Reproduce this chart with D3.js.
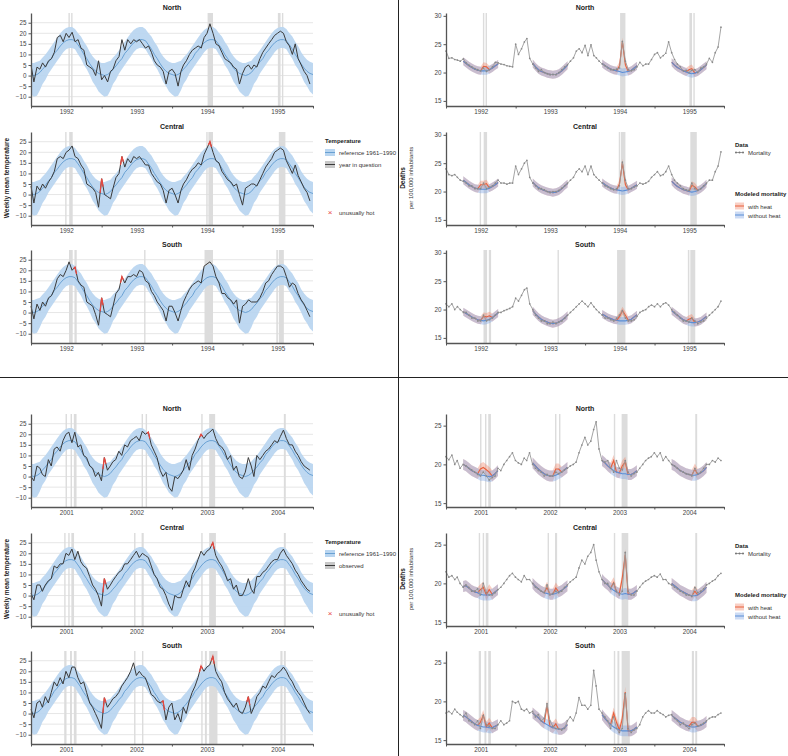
<!DOCTYPE html>
<html><head><meta charset="utf-8">
<script src="https://cdn.jsdelivr.net/npm/d3@7"></script>
<style>
body{margin:0;background:#fff;}
svg{font-family:"Liberation Sans",Arial,sans-serif;}
</style></head><body>
<svg id="c" width="788" height="756"></svg>
<script>
// ---------- DATA (half-monthly values: 1st and 16th of each month) ----------
const regions = ["North", "Central", "South"];
const yearsA = [1992, 1993, 1994, 1995];
const yearsB = [2001, 2002, 2003, 2004];
const tempTicks = [-10, -5, 0, 5, 10, 15, 20, 25];
const mortTicksA = [15, 20, 25, 30];
const mortTicksB = [15, 20, 25];

// Reference 1961-1990 climatology (24 half-months)
const refMid = [0.5, 0, 0.5, 1.5, 3, 4.5, 6.5, 8, 10.5, 12, 14, 15.5, 16.5, 17, 17, 16.5, 14.5, 12.5, 10, 8, 5.5, 3.5, 2, 1];
const refLo = [-9, -10, -9.5, -7, -4, -2, 1, 3, 5, 7, 9, 11, 12.5, 13, 13, 12.5, 10, 8, 5, 3, 0, -3, -5, -7.5];
const refHi = [6, 6, 6.5, 7, 8.5, 10, 12, 14, 16, 18, 20, 21.5, 22.5, 23, 23, 22, 20, 18.5, 16, 14, 11, 9, 7.5, 6.5];

// Observed weekly mean temperature
const tempNorthA = [5, -3, 4, 3, 6, 4, 7, 8, 11, 18, 19, 16, 20, 18, 20.5, 16, 17, 13, 12, 5, 4, 3, 0, 7,
  -2, 0, -3, 2, 3, 7, 9, 17, 12, 17, 15, 17, 16, 17, 15, 13, 14, 11, 7, 5, 4, 2, -4, 2,
  3, 1, -5, 2, 5, 7, 10, 12, 13, 14, 13, 18, 20, 24.5, 20, 15, 14, 11, 8, 7, 6, 4, 3, -4,
  1, 4, 5, 3, 5, 4, 8, 11, 13, 15, 17, 19, 20, 21, 20, 16, 14, 10, 15, 8, 5, 2, 0, -4];
const tempCentralA = [4, -4, 4, 2, 5, 3, 6, 8, 11, 17, 18, 17, 20, 21, 23, 18, 17, 14, 12, 5, 4, 3, 1, -6,
  7.5, 0, -1, -2, 3, 8, 10, 18, 13, 17, 15, 18, 17, 18, 16, 14, 14, 10, 8, 6, 5, 2, -4, 2,
  3, 0, -4, 2, 5, 7, 10, 12, 13, 15, 14, 19, 22, 25, 20, 16, 15, 11, 9, 7, 6, 4, 5, 0,
  -5, 3, 4, 5, 5, 4, 7, 10, 13, 15, 17, 20, 21, 22, 21, 16, 13, 10, 14, 9, 6, 3, 1, -3];
const tempSouthA = [3, -3, 4, 1, 5, 3, 7, 8, 11, 16, 18, 17, 20, 24, 20, 21.5, 15, 13, 12, 5, 4, 3, -1, -6,
  7, 0, -1, -2, 3, 9, 11, 17, 14, 17, 17, 18, 17, 20, 19, 15, 14, 10, 8, 5, 3, 1, -4, 3,
  3, 0, -4, 1, 5, 8, 11, 13, 14, 15, 14, 22, 23, 24, 22, 17, 14, 9, 9, 7, 6, 4, 6, -5,
  3, 4, 6, 5, 5, 5, 7, 10, 14, 15, 18, 20, 22, 22, 21, 17, 12, 14, 13, 9, 6, 4, 1, -2];
const tempNorthB = [0, -2, 5, 4, 1, 0, 8, 5, 13, 14, 12, 17, 20, 21, 16, 21, 14, 15, 10, 9, 5, 4, 0, 2,
  -2, 9, 3, 5, 7, 8, 12, 10, 15, 14, 17, 18, 19, 17, 21.5, 20, 21, 15, 12, 9, 3, 0, 2, -5,
  -7, 0, -1, 1, 3, 8, 3, 10, 13, 17, 20, 18, 20, 21, 22.5, 18, 15, 14, 12, 8, 10, 3, 5, 0,
  -1, 2, 9, 5, 0, 10, 8, 10, 12, 13, 15, 17, 16, 19, 22, 18, 15, 15, 12, 10, 7, 5, 4, 3];
const tempCentralB = [1, -2, 5, 5, 2, 5, 7, 8, 14, 13, 15, 15, 20, 19, 22, 17, 21, 16, 14, 13, 9, 5, 3, 0,
  -5, 8, 3, 5, 7, 9, 11, 12, 15, 15, 17, 19, 21, 18, 20, 19, 18, 14, 10, 8, 4, 3, 0, -4,
  -7, 0, -1, -1, 3, 7, 4, 10, 13, 17, 21, 19, 21, 22, 25, 19, 16, 14, 11, 7, 8, 3, 5, 0,
  0, 3, 8, 3, 1, 9, 9, 11, 12, 14, 16, 17, 17, 20, 22, 19, 17, 15, 12, 10, 7, 5, 3, 2];
const tempSouthB = [2, -2, 5, 6, 3, 8, 5, 10, 15, 13, 17, 14, 20, 17, 22, 22, 17, 14, 15, 10, 5, 3, 0, -3,
  -7, 7.5, 3, 5, 7, 8, 10, 13, 15, 17, 20, 24, 18, 20, 18, 17, 13, 9, 8, 6, 5, 6, -3, 3,
  5, -3, 0, -4, 3, 0, 6, 10, 13, 17, 22.5, 20, 22, 23, 27, 20, 17, 15, 10, 7, 5, 3, 5, 1,
  0, 3, 8, 0, 3, 8, 10, 13, 12, 15, 18, 17, 19, 20, 22, 20, 17, 15, 12, 10, 8, 5, 2, 0];

// Indices of unusually hot half-months
const hotNorthA = [], hotCentralA = [24, 31, 61], hotSouthA = [15, 24, 31];
const hotNorthB = [25, 40, 58], hotCentralB = [25, 62], hotSouthB = [25, 45, 58, 62, 74];

// Heat-wave periods
const hwNorthA = [["1992-07-13","1992-07-20"],["1992-07-27","1992-08-03"],["1994-07-04","1994-08-01"],["1995-07-03","1995-07-17"],["1995-07-24","1995-07-31"]];
const hwCentralA = [["1992-06-26","1992-07-03"],["1992-07-17","1992-08-04"],["1994-06-27","1994-07-04"],["1994-07-08","1994-08-01"],["1995-07-08","1995-08-11"]];
const hwSouthA = [["1992-07-16","1992-08-04"],["1992-08-13","1992-08-25"],["1993-08-09","1993-08-16"],["1994-06-18","1994-08-01"],["1995-06-25","1995-07-03"],["1995-07-08","1995-08-03"]];
const hwNorthB = [["2001-06-29","2001-07-06"],["2001-07-25","2001-08-01"],["2001-08-11","2001-08-25"],["2002-07-28","2002-08-04"],["2002-08-18","2002-08-25"],["2003-06-02","2003-06-09"],["2003-07-13","2003-08-13"],["2004-08-03","2004-08-13"]];
const hwCentralB = [["2001-06-22","2001-06-29"],["2001-07-13","2001-07-20"],["2001-07-29","2001-08-12"],["2002-06-19","2002-06-26"],["2002-07-28","2002-08-08"],["2003-06-02","2003-06-09"],["2003-07-13","2003-08-17"],["2004-08-03","2004-08-13"]];
const hwSouthB = [["2001-06-22","2001-07-04"],["2001-07-22","2001-08-01"],["2001-08-11","2001-08-25"],["2002-06-19","2002-06-26"],["2002-07-30","2002-08-06"],["2003-06-02","2003-06-09"],["2003-06-21","2003-07-01"],["2003-07-13","2003-08-25"],["2004-07-16","2004-07-27"],["2004-08-03","2004-08-13"]];

// Observed mortality (deaths per 100,000)
const mortNorthA = [23.8, 22.5, 22.6, 22.3, 22.2, 22, 22.4, 21.7, 21.3, 21, 20.7, 20.5, 20.3, 20.8, 20.2, 20.5, 21, 21.8, 21.7, 21.5, 21.4, 21.2, 21.1, 21,
  25, 23.2, 24.2, 25.4, 26, 22.5, 21.5, 20.8, 20.2, 20.5, 20, 19.8, 19.6, 19.7, 19.6, 20, 20.5, 21, 21.4, 22, 22.6, 23.8, 24.2, 23.5,
  24.8, 23, 24.9, 23, 22.6, 22, 21.5, 21.2, 20.8, 20.5, 20.5, 20.6, 20.8, 25.5, 22, 20.5, 20.3, 20.5, 21, 21.8, 21.2, 21.5, 21.5, 22.3,
  23.2, 23.5, 22.6, 23, 23.4, 25.4, 23.5, 22.3, 21.5, 21, 20.3, 20.4, 20, 20.4, 20.5, 20, 20.8, 21, 21.5, 22.5, 21.8, 23.5, 24.5, 28];
const mortCentralA = [24, 23, 22.8, 23, 22.5, 22, 21.8, 21.5, 21, 21, 20.5, 20.5, 20.5, 21.5, 20.5, 20.8, 21, 21.5, 22, 21.5, 21.5, 21.3, 21.5, 21.5,
  24.5, 23, 24, 25, 25.5, 22.5, 21.5, 21, 20.5, 20.5, 20.3, 20, 19.8, 20, 20, 20.2, 20.6, 21, 21.5, 22, 22.5, 23.5, 24, 23.5,
  24.5, 23, 24.5, 23, 22.5, 22, 21.5, 21, 20.8, 20.5, 20.3, 20.5, 21, 25.2, 22, 20.5, 20.5, 20.8, 21, 21.5, 21.3, 21.5, 21.8, 22.5,
  23, 23.5, 22.8, 23, 23.5, 24.5, 23, 22, 21.5, 21, 20.5, 20.3, 20.2, 21.5, 20.5, 20.2, 20.5, 21, 21.5, 22, 22, 23.5, 24.5, 27];
const mortSouthA = [21, 20.5, 21, 20, 20.5, 20, 19.5, 19.5, 19, 18.5, 18.5, 18, 18, 19, 18, 18.2, 18.5, 19, 19.5, 19.5, 19.8, 20, 20.2, 20.5,
  22, 21.5, 22.5, 23.5, 23.8, 21, 20, 19, 18.5, 18, 18, 17.5, 17.5, 17.8, 17.5, 17.8, 18, 18.5, 19, 19.5, 20, 20.5, 21, 21.5,
  21, 20.5, 21.2, 20.5, 20, 19.5, 19, 18.5, 18.5, 18.2, 18, 18.5, 19, 19.8, 18.5, 18, 18, 18.2, 18.8, 19.5, 19.8, 20, 20.5, 20.8,
  20.5, 21, 20.5, 21, 21.2, 20.8, 20, 19.5, 19, 18.5, 18, 18, 17.8, 18.5, 18, 17.5, 17.8, 18, 18.5, 19, 19.5, 20, 20.5, 21.5];
const mortNorthB = [21, 20.6, 21.2, 20, 20.5, 19.5, 20, 19.8, 19.5, 19.3, 19, 18.7, 18.5, 19, 18.5, 18, 18.3, 18.5, 19.5, 19.2, 20, 20.5, 21, 21.5,
  20.5, 20.2, 20, 20.8, 20.5, 21.5, 20, 19.5, 19.2, 19, 18.5, 18.7, 18.5, 18.5, 19, 18.8, 19, 19.3, 19.5, 19.8, 20, 20.3, 21.5, 22.5,
  23.5, 22.5, 23, 24.5, 25.5, 22, 20.5, 20.3, 20.5, 19.5, 19, 20.5, 19.5, 19.3, 20.5, 19, 18.5, 18.8, 19, 19.5, 20, 20.5, 20.8, 21,
  21.5, 21, 21.5, 20.5, 21, 20.5, 20, 19.8, 19.5, 19.2, 19, 18.8, 18.7, 18.5, 19.5, 18.8, 19, 19.5, 20, 20, 20.5, 20.3, 20.8, 20.5];
const mortCentralB = [21.5, 20.8, 21, 20.5, 20.8, 20, 19.5, 19.8, 19.5, 19, 19, 19.3, 18.5, 20, 18.8, 18.5, 18.5, 18.8, 19.2, 19.5, 20, 20.5, 21, 21.3,
  20.8, 20.5, 20.2, 21, 20.5, 20.5, 20, 19.5, 19.3, 19, 18.8, 19.8, 18.5, 18.7, 19, 18.8, 19, 19.5, 19.8, 20.2, 20.5, 20.8, 22, 23,
  22.5, 23.5, 24, 25, 23, 21.5, 20.5, 20, 20, 19.3, 20, 19, 18.5, 19, 24, 19, 18.5, 18.5, 19, 19.5, 20, 20.3, 20.5, 20.8,
  21, 20.8, 21.2, 20.5, 20.5, 20, 19.8, 19.5, 19.3, 19, 18.8, 18.5, 18.5, 18.3, 19.5, 18.8, 19, 19.3, 19.8, 20, 20.3, 20.5, 21, 21.3];
const mortSouthB = [18.5, 18.7, 18.4, 19, 18.6, 18.3, 18, 18.5, 17.5, 17.3, 17, 17.5, 16.5, 18.2, 17, 16.8, 16.5, 16.5, 17, 17.5, 17, 17.2, 17.5, 20,
  19.8, 20, 19, 18.8, 19, 18.5, 18.7, 18, 18.3, 17.5, 17.8, 19.7, 17.5, 16.8, 16.5, 16.5, 16.3, 16.5, 17.5, 18, 17.5, 18.5, 20.5, 19.5,
  19.5, 19, 19.5, 24, 22, 19, 18.5, 18, 17.5, 16.5, 18, 16.5, 16, 16.5, 21, 16.5, 16, 16.3, 16.5, 17, 18, 18.5, 18.8, 18.5,
  18.5, 18.8, 18.5, 18.3, 18, 18.2, 18.3, 17.8, 17.5, 17, 17.2, 16.8, 16.5, 17, 17.2, 16.8, 17, 17.2, 17.5, 17.8, 18, 18, 18.3, 18.5];

// Modeled mortality without heat, Apr 1 - Oct 1 of each year (13 half-months per year)
const noHeatNorthA = [22, 21.6, 21.2, 20.9, 20.6, 20.4, 20.3, 20.3, 20.3, 20.5, 20.8, 21.2, 21.5,
  21.6, 21, 20.5, 20.2, 20, 19.8, 19.7, 19.6, 19.7, 19.9, 20.3, 20.8, 21.3,
  21.6, 21.2, 20.9, 20.6, 20.4, 20.3, 20.2, 20, 20.1, 20.2, 20.4, 20.8, 21.2,
  21.8, 21.3, 20.9, 20.6, 20.3, 20.1, 19.9, 19.8, 19.9, 20.1, 20.5, 20.9, 21.3];
const noHeatCentralA = [22, 21.6, 21.2, 20.9, 20.6, 20.5, 20.4, 20.4, 20.4, 20.6, 20.9, 21.2, 21.6,
  21.6, 21.1, 20.7, 20.4, 20.2, 20, 19.9, 19.8, 19.9, 20.1, 20.5, 21, 21.4,
  21.6, 21.2, 20.9, 20.6, 20.4, 20.3, 20.2, 20.1, 20.2, 20.3, 20.6, 20.9, 21.2,
  21.8, 21.3, 20.9, 20.6, 20.3, 20.2, 20, 19.9, 20, 20.2, 20.5, 20.9, 21.4];
const noHeatSouthA = [19.6, 19.3, 19, 18.7, 18.4, 18.2, 18.1, 18, 18.1, 18.3, 18.6, 19, 19.4,
  19.8, 19.2, 18.7, 18.3, 18, 17.8, 17.6, 17.5, 17.6, 17.8, 18.1, 18.5, 19,
  19.2, 18.9, 18.6, 18.4, 18.2, 18.1, 18, 18, 18, 18.1, 18.3, 18.7, 19.1,
  19.8, 19.4, 19, 18.6, 18.2, 18, 17.8, 17.7, 17.7, 17.8, 18, 18.4, 18.8];
const noHeatNorthB = [20, 19.8, 19.5, 19.2, 19, 18.8, 18.6, 18.6, 18.5, 18.4, 18.5, 18.8, 19.2,
  20.2, 19.8, 19.4, 19.1, 18.8, 18.6, 18.5, 18.5, 18.6, 18.8, 19, 19.3, 19.6,
  20.5, 20.2, 19.8, 19.5, 19.2, 19, 18.9, 18.8, 18.8, 18.7, 18.7, 18.9, 19.2,
  20, 19.8, 19.5, 19.2, 19, 18.8, 18.7, 18.6, 18.6, 18.7, 18.9, 19.2, 19.6];
const noHeatCentralB = [19.6, 19.7, 19.4, 19.1, 18.9, 18.8, 18.6, 18.5, 18.5, 18.5, 18.6, 18.9, 19.2,
  20, 19.6, 19.3, 19, 18.8, 18.7, 18.6, 18.6, 18.7, 18.9, 19.1, 19.4, 19.7,
  20.5, 20.1, 19.8, 19.4, 19.1, 18.9, 18.7, 18.6, 18.7, 18.6, 18.6, 18.8, 19.1,
  20, 19.7, 19.4, 19.1, 18.9, 18.7, 18.5, 18.4, 18.4, 18.5, 18.8, 19.1, 19.5];
const noHeatSouthB = [18.2, 18, 17.7, 17.4, 17.1, 16.9, 16.8, 16.7, 16.7, 16.6, 16.6, 16.8, 17,
  18.5, 18.2, 17.9, 17.5, 17.2, 17, 16.8, 16.6, 16.5, 16.4, 16.4, 16.6, 17,
  18.3, 17.8, 17.4, 17, 16.7, 16.5, 16.3, 16.2, 16.2, 16.2, 16.2, 16.4, 16.7,
  18.2, 17.9, 17.6, 17.3, 17.1, 16.9, 16.8, 16.7, 16.7, 16.8, 16.9, 17.1, 17.4];
// Extra deaths attributed to heat: [half-month index, value]
const excessNorthA = [[13, 0.8], [14, 0.7], [60, 1.0], [61, 5.5], [62, 1.2], [84, 0.6], [85, 0.9]];
const excessCentralA = [[12, 0.8], [13, 0.8], [14, 1.0], [60, 1.2], [61, 5.0], [62, 1.0], [85, 1.2], [86, 0.8]];
const excessSouthA = [[13, 0.8], [14, 0.6], [15, 0.6], [60, 0.8], [61, 1.8], [62, 1.0], [84, 0.5], [85, 0.8]];
const excessNorthB = [[12, 0.8], [13, 1.0], [14, 0.8], [15, 0.6], [38, 0.8], [39, 0.6], [58, 1.3], [61, 1.0], [62, 1.5], [86, 0.8]];
const excessCentralB = [[12, 0.6], [13, 1.0], [15, 0.7], [35, 0.8], [38, 0.7], [58, 1.0], [61, 2.0], [62, 5.0], [86, 0.6]];
const excessSouthB = [[12, 0.5], [13, 1.5], [15, 0.6], [35, 2.5], [38, 0.6], [58, 1.8], [59, 0.8], [61, 1.5], [62, 5.0], [85, 0.6], [86, 0.6]];
const ciHalf = 0.7;

// ---------- DRAWING ----------
const svg = d3.select("#c");
const C = {
  band: "#b8d5f0", refLine: "#5493cc", obs: "#3a3a3a", hot: "#e8473f", hw: "#dcdcdc",
  grid: "#e6e6e6", axis: "#555", mort: "#9a9a9a", redLine: "#e8603c", redBand: "rgba(240,130,100,0.38)",
  blueLine: "#5b8ed6", blueBand: "rgba(120,160,225,0.38)"
};
const FS = 7, LFS = 6;

const periods = [
  { years: yearsA, off: 0, temps: [tempNorthA, tempCentralA, tempSouthA], hot: [hotNorthA, hotCentralA, hotSouthA],
    hw: [hwNorthA, hwCentralA, hwSouthA], mort: [mortNorthA, mortCentralA, mortSouthA],
    noHeat: [noHeatNorthA, noHeatCentralA, noHeatSouthA], excess: [excessNorthA, excessCentralA, excessSouthA],
    yR: [14.1, 30.5], ticksR: mortTicksA, obsLabel: "year in question" },
  { years: yearsB, off: 401, temps: [tempNorthB, tempCentralB, tempSouthB], hot: [hotNorthB, hotCentralB, hotSouthB],
    hw: [hwNorthB, hwCentralB, hwSouthB], mort: [mortNorthB, mortCentralB, mortSouthB],
    noHeat: [noHeatNorthB, noHeatCentralB, noHeatSouthB], excess: [excessNorthB, excessCentralB, excessSouthB],
    yR: [14.5, 26.5], ticksR: mortTicksB, obsLabel: "observed" }
];

const panelTops = [13, 132, 250];
const PH = 93;
const L = { x0: 31, x1: 313 }, R = { x0: 446, x1: 724 };
const halfDate = (y0, i) => new Date(y0 + Math.floor(i / 24), Math.floor((i % 24) / 2), (i % 2) ? 16 : 1);
const parse = d3.timeParse("%Y-%m-%d");

function styleAxis(g) {
  g.selectAll(".domain").attr("stroke", C.axis).attr("stroke-width", 1.3);
  g.selectAll(".tick line").attr("stroke", C.axis);
  g.selectAll("text").attr("font-size", 6.3).attr("fill", "#444").attr("font-family", "Liberation Sans, Arial, sans-serif");
}

function xAxes(g, x, y0, nYears, bottom) {
  const yb = Array.from({ length: nYears + 1 }, (_, k) => new Date(y0 + k, 0, 1));
  const ax = g.append("g").attr("transform", `translate(0,${bottom})`)
    .call(d3.axisBottom(x).tickValues(yb).tickSize(2.5).tickSizeOuter(0).tickFormat(""));
  styleAxis(ax);
  const mids = Array.from({ length: nYears }, (_, k) => new Date(y0 + k, 6, 2));
  const lab = g.append("g").attr("transform", `translate(0,${bottom})`)
    .call(d3.axisBottom(x).tickValues(mids).tickSize(0).tickPadding(4).tickFormat(d3.timeFormat("%Y")));
  lab.select(".domain").remove();
  styleAxis(lab);
}

function hwBands(g, x, list, top) {
  g.append("g").selectAll("rect").data(list).join("rect")
    .attr("x", d => x(parse(d[0])))
    .attr("width", d => Math.max(1.4, x(parse(d[1])) - x(parse(d[0]))))
    .attr("y", top).attr("height", PH).attr("fill", C.hw);
}

periods.forEach(P => {
  const y0 = P.years[0], nY = P.years.length;
  const dom = [new Date(y0, 0, 1), new Date(y0 + nY, 0, 1)];
  regions.forEach((reg, r) => {
    const top = panelTops[r] + P.off, bot = top + PH;
    // ---- left: temperature ----
    {
      const g = svg.append("g");
      const x = d3.scaleTime().domain(dom).range([L.x0, L.x1]);
      const y = d3.scaleLinear().domain([-14.4, 29.6]).range([bot, top]);
      g.append("g").selectAll("line").data(tempTicks).join("line")
        .attr("x1", L.x0).attr("x2", L.x1).attr("y1", d => y(d)).attr("y2", d => y(d))
        .attr("stroke", C.grid).attr("stroke-width", 1);
      hwBands(g, x, P.hw[r], top);
      const nRef = nY * 24 + 1;
      const idx = d3.range(nRef);
      g.append("path").datum(idx).attr("fill", C.band).attr("opacity", 0.92)
        .attr("d", d3.area().x(i => x(halfDate(y0, i))).y0(i => y(refLo[i % 24])).y1(i => y(refHi[i % 24])));
      g.append("path").datum(idx).attr("fill", "none").attr("stroke", C.refLine).attr("stroke-width", 0.8)
        .attr("d", d3.line().x(i => x(halfDate(y0, i))).y(i => y(refMid[i % 24])));
      const T = P.temps[r];
      const pts = T.map((v, i) => [x(halfDate(y0, i)), y(v)]);
      g.append("path").datum(pts).attr("fill", "none").attr("stroke", C.obs).attr("stroke-width", 1)
        .attr("stroke-linejoin", "round").attr("d", d3.line());
      P.hot[r].forEach(h => {
        const a = pts[h - 1], b = pts[h], c = pts[h + 1];
        const seg = [[(a[0] + b[0]) / 2, (a[1] + b[1]) / 2], b, [(b[0] + c[0]) / 2, (b[1] + c[1]) / 2]];
        g.append("path").datum(seg).attr("fill", "none").attr("stroke", C.hot).attr("stroke-width", 1.3).attr("d", d3.line());
      });
      const ya = g.append("g").attr("transform", `translate(${L.x0},0)`)
        .call(d3.axisLeft(y).tickValues(tempTicks).tickSize(2.5).tickSizeOuter(0).tickPadding(2));
      styleAxis(ya);
      xAxes(g, x, y0, nY, bot);
      g.append("text").attr("x", (L.x0 + L.x1) / 2).attr("y", top - 3.5).attr("text-anchor", "middle")
        .attr("font-size", FS).attr("font-weight", "bold").attr("fill", "#222").text(reg);
    }
    // ---- right: mortality ----
    {
      const g = svg.append("g");
      const x = d3.scaleTime().domain(dom).range([R.x0, R.x1]);
      const y = d3.scaleLinear().domain(P.yR).range([bot, top]);
      hwBands(g, x, P.hw[r], top);
      const NH = P.noHeat[r];
      const exMap = new Map(P.excess[r]);
      for (let k = 0; k < nY; k++) {
        const seg = d3.range(13).map(j => {
          const i = k * 24 + 6 + j;
          const v = NH[k * 13 + j];
          return { d: halfDate(y0, i), v, w: v + (exMap.get(i) || 0) };
        });
        g.append("path").datum(seg).attr("fill", C.redBand)
          .attr("d", d3.area().x(d => x(d.d)).y0(d => y(d.w - ciHalf)).y1(d => y(d.w + ciHalf)));
        g.append("path").datum(seg).attr("fill", C.blueBand)
          .attr("d", d3.area().x(d => x(d.d)).y0(d => y(d.v - ciHalf)).y1(d => y(d.v + ciHalf)));
        g.append("path").datum(seg).attr("fill", "none").attr("stroke", C.redLine).attr("stroke-width", 1.1)
          .attr("d", d3.line().x(d => x(d.d)).y(d => y(d.w)));
        g.append("path").datum(seg).attr("fill", "none").attr("stroke", C.blueLine).attr("stroke-width", 1.1)
          .attr("d", d3.line().x(d => x(d.d)).y(d => y(d.v)));
      }
      const M = P.mort[r];
      g.append("path").datum(M).attr("fill", "none").attr("stroke", C.mort).attr("stroke-width", 0.9)
        .attr("d", d3.line().x((v, i) => x(halfDate(y0, i))).y(v => y(v)));
      g.append("g").selectAll("circle").data(M).join("circle")
        .attr("cx", (v, i) => x(halfDate(y0, i))).attr("cy", v => y(v)).attr("r", 0.85).attr("fill", "#8a8a8a");
      const ya = g.append("g").attr("transform", `translate(${R.x0},0)`)
        .call(d3.axisLeft(y).tickValues(P.ticksR).tickSize(2.5).tickSizeOuter(0).tickPadding(2));
      styleAxis(ya);
      xAxes(g, x, y0, nY, bot);
      g.append("text").attr("x", (R.x0 + R.x1) / 2).attr("y", top - 3.5).attr("text-anchor", "middle")
        .attr("font-size", FS).attr("font-weight", "bold").attr("fill", "#222").text(reg);
    }
  });

  const o = P.off;
  // y-axis titles
  svg.append("text").attr("transform", `translate(9,${178 + o}) rotate(-90)`).attr("text-anchor", "middle")
    .attr("font-size", 6.5).attr("font-weight", "bold").attr("fill", "#222").text("Weekly mean temperature");
  svg.append("text").attr("transform", `translate(405,${178 + o}) rotate(-90)`).attr("text-anchor", "middle")
    .attr("font-size", 6.5).attr("font-weight", "bold").attr("fill", "#222").text("Deaths");
  svg.append("text").attr("transform", `translate(412.5,${178 + o}) rotate(-90)`).attr("text-anchor", "middle")
    .attr("font-size", 6).attr("fill", "#333").text("per 100,000 inhabitants");

  // left legend
  const lg = svg.append("g").attr("font-size", LFS).attr("fill", "#333");
  lg.append("text").attr("x", 325).attr("y", 143 + o).attr("font-weight", "bold").attr("fill", "#222").text("Temperature");
  lg.append("rect").attr("x", 325).attr("y", 149 + o).attr("width", 10).attr("height", 7).attr("fill", C.band);
  lg.append("line").attr("x1", 325).attr("x2", 335).attr("y1", 152.5 + o).attr("y2", 152.5 + o).attr("stroke", C.refLine).attr("stroke-width", 0.8);
  lg.append("text").attr("x", 339).attr("y", 155 + o).text("reference 1961\u20131990");
  lg.append("rect").attr("x", 325).attr("y", 161 + o).attr("width", 10).attr("height", 7).attr("fill", "#c8c8c8");
  lg.append("line").attr("x1", 325).attr("x2", 335).attr("y1", 164.5 + o).attr("y2", 164.5 + o).attr("stroke", C.obs).attr("stroke-width", 1);
  lg.append("text").attr("x", 339).attr("y", 167 + o).text(P.obsLabel);
  lg.append("text").attr("x", 330).attr("y", 215 + o).attr("text-anchor", "middle").attr("fill", C.hot).attr("font-size", 8).text("\u00d7");
  lg.append("text").attr("x", 339).attr("y", 215 + o).text("unusually hot");

  // right legend
  const rg = svg.append("g").attr("font-size", LFS).attr("fill", "#333");
  rg.append("text").attr("x", 735).attr("y", 146.5 + o).attr("font-weight", "bold").attr("fill", "#222").text("Data");
  rg.append("line").attr("x1", 735).attr("x2", 744).attr("y1", 152.5 + o).attr("y2", 152.5 + o).attr("stroke", C.mort).attr("stroke-width", 1);
  [736, 739.5, 743].forEach(cx => rg.append("circle").attr("cx", cx).attr("cy", 152.5 + o).attr("r", 1).attr("fill", "#777"));
  rg.append("text").attr("x", 748).attr("y", 155 + o).text("Mortality");
  rg.append("text").attr("x", 735).attr("y", 195.5 + o).attr("font-weight", "bold").attr("fill", "#222").text("Modeled mortality");
  rg.append("rect").attr("x", 735).attr("y", 202.5 + o).attr("width", 9).attr("height", 7).attr("fill", C.redBand);
  rg.append("line").attr("x1", 735).attr("x2", 744).attr("y1", 206 + o).attr("y2", 206 + o).attr("stroke", C.redLine).attr("stroke-width", 1);
  rg.append("text").attr("x", 748).attr("y", 208.5 + o).text("with heat");
  rg.append("rect").attr("x", 735).attr("y", 211.5 + o).attr("width", 9).attr("height", 7).attr("fill", C.blueBand);
  rg.append("line").attr("x1", 735).attr("x2", 744).attr("y1", 215 + o).attr("y2", 215 + o).attr("stroke", C.blueLine).attr("stroke-width", 1);
  rg.append("text").attr("x", 748).attr("y", 217.5 + o).text("without heat");
});

// quadrant dividers
svg.append("line").attr("x1", 398.5).attr("x2", 398.5).attr("y1", 0).attr("y2", 756).attr("stroke", "#222").attr("stroke-width", 1);
svg.append("line").attr("x1", 0).attr("x2", 788).attr("y1", 377.5).attr("y2", 377.5).attr("stroke", "#222").attr("stroke-width", 1);
</script></body></html>
